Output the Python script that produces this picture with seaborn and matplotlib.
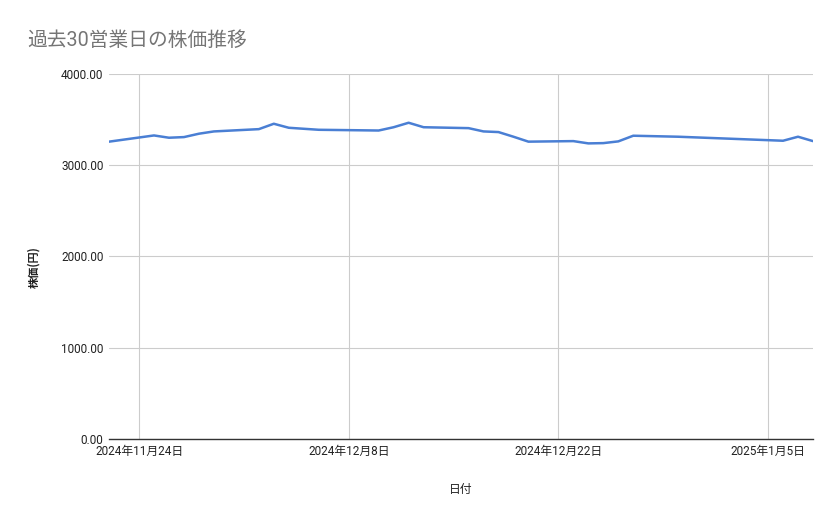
import pandas as pd
import matplotlib
matplotlib.use('Agg')
import matplotlib.pyplot as plt
import seaborn as sns

# 過去30営業日の株価
dates = ['2024-11-22', '2024-11-25', '2024-11-26', '2024-11-27', '2024-11-28', '2024-11-29',
         '2024-12-02', '2024-12-03', '2024-12-04', '2024-12-05', '2024-12-06',
         '2024-12-09', '2024-12-10', '2024-12-11', '2024-12-12', '2024-12-13',
         '2024-12-16', '2024-12-17', '2024-12-18', '2024-12-19', '2024-12-20',
         '2024-12-23', '2024-12-24', '2024-12-25', '2024-12-26', '2024-12-27',
         '2024-12-30', '2025-01-06', '2025-01-07', '2025-01-08']
prices = [3256, 3324, 3299, 3306, 3343, 3368,
          3393, 3452, 3408, 3397, 3386,
          3380, 3378, 3414, 3463, 3414,
          3404, 3368, 3361, 3310, 3256,
          3262, 3237, 3240, 3259, 3321,
          3310, 3266, 3310, 3262]
tick_dates = ['2024-11-24', '2024-12-08', '2024-12-22', '2025-01-05']
y_ticks = [0, 1000, 2000, 3000, 4000]

df = pd.DataFrame({'日付': pd.to_datetime(dates), '株価(円)': prices})

sns.set_style('white')
plt.rcParams['font.family'] = ['Roboto', 'Noto Sans CJK JP', 'DejaVu Sans']

fig = plt.figure(figsize=(8.39, 5.19), dpi=100)
ax = fig.add_axes([0.13, 0.154, 0.839, 0.704])

sns.lineplot(data=df, x='日付', y='株価(円)', color='#4a7fd4', linewidth=1.8, ax=ax)

ax.set_xlim(df['日付'].min(), df['日付'].max())
ax.set_ylim(0, 4000)
ax.set_yticks(y_ticks)
ax.set_yticklabels(['%.2f' % v for v in y_ticks], fontsize=8.5, color='#222222')
ticks = pd.to_datetime(tick_dates)
ax.set_xticks(ticks)
ax.set_xticklabels(['%d年%d月%d日' % (t.year, t.month, t.day) for t in ticks],
                   fontsize=8.5, color='#222222')
ax.tick_params(length=0, pad=4)
ax.grid(True, color='#cccccc', linewidth=0.8)

for s in ['top', 'right', 'left']:
    ax.spines[s].set_visible(False)
ax.spines['bottom'].set_color('#333333')
ax.spines['bottom'].set_linewidth(1.0)

ax.set_xlabel('日付', fontsize=8.5, color='#222222', labelpad=18)
ax.set_ylabel('株価(円)', fontsize=8, color='#222222',
              fontweight='bold', family=['Noto Sans CJK JP', 'DejaVu Sans'])
ax.yaxis.set_label_coords(-0.098, 0.47)

fig.text(0.032, 0.911, '過去30営業日の株価推移', fontsize=14.2, color='#757575')

fig.savefig('out.png', dpi=100, facecolor='white')
